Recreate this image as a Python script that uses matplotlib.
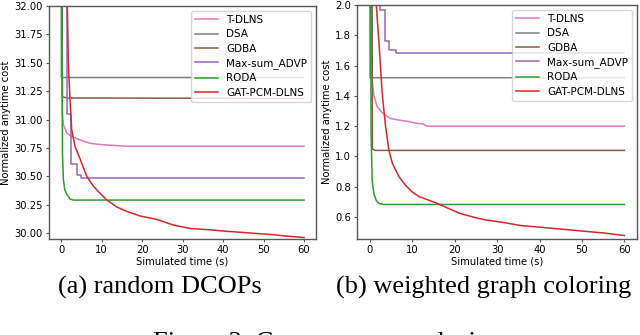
import matplotlib
matplotlib.use("Agg")
import matplotlib.pyplot as plt

labels = ["T-DLNS", "DSA", "GDBA", "Max-sum_ADVP", "RODA", "GAT-PCM-DLNS"]
colors = ["tab:pink", "tab:gray", "tab:brown", "tab:purple", "tab:green", "tab:red"]

# (a) random DCOPs
a_tdlns_t = [0.2, 0.25, 0.6, 1.4, 2.6, 4.7, 7.1, 9.6, 13.7, 15.8, 60]
a_tdlns_y = [33.0, 31.06, 30.95, 30.88, 30.85, 30.82, 30.79, 30.78, 30.77, 30.765, 30.765]
a_dsa_t = [0.0, 0.05, 60]
a_dsa_y = [33.0, 31.37, 31.37]
a_gdba_t = [0.1, 0.3, 1.5, 60]
a_gdba_y = [33.0, 31.20, 31.19, 31.185]
a_maxsum_t = [1.5, 1.5, 2.5, 2.5, 3.8, 3.8, 5.0, 5.0, 60]
a_maxsum_y = [33.0, 31.05, 31.05, 30.61, 30.61, 30.51, 30.51, 30.485, 30.485]
a_roda_t = [0.15, 0.3, 0.55, 0.9, 1.4, 2.2, 3.0, 60]
a_roda_y = [33.0, 30.73, 30.47, 30.38, 30.34, 30.30, 30.29, 30.29]
a_gat_t = [1.4, 1.8, 2.2, 2.6, 3.45, 4.7, 6.3, 8.0, 9.6, 11.3, 13.7, 16.2, 19.5,
           23.6, 27.7, 31.8, 35.9, 40.8, 46.6, 52.3, 56.5, 60]
a_gat_y = [32.2, 31.47, 31.17, 30.91, 30.76, 30.65, 30.50, 30.41, 30.35, 30.29, 30.23,
           30.19, 30.15, 30.12, 30.07, 30.04, 30.03, 30.015, 30.0, 29.985, 29.97, 29.96]

# (b) weighted graph coloring
b_tdlns_t = [0.3, 0.4, 0.95, 1.7, 2.9, 4.9, 6.9, 9.2, 10.8, 12.4, 13.6, 60]
b_tdlns_y = [2.5, 1.53, 1.40, 1.33, 1.29, 1.25, 1.24, 1.23, 1.22, 1.215, 1.20, 1.20]
b_dsa_t = [0.0, 0.05, 60]
b_dsa_y = [2.5, 1.52, 1.52]
b_gdba_t = [0.5, 0.6, 1.2, 60]
b_gdba_y = [2.5, 1.05, 1.04, 1.04]
b_maxsum_t = [2.4, 2.4, 3.6, 3.6, 4.5, 4.5, 6.2, 6.2, 60]
b_maxsum_y = [2.5, 1.97, 1.97, 1.76, 1.76, 1.70, 1.70, 1.683, 1.683]
b_roda_t = [0.1, 0.3, 0.55, 0.95, 1.5, 2.1, 3.3, 60]
b_roda_y = [2.5, 1.15, 0.84, 0.755, 0.71, 0.69, 0.683, 0.683]
b_gat_t = [1.3, 1.7, 2.1, 2.5, 2.9, 3.7, 4.5, 5.3, 6.9, 8.4, 10.0, 11.6, 14.0, 15.5,
           17.9, 21.1, 25.0, 27.4, 31.3, 35.3, 39.2, 43.2, 47.1, 51.0, 55.0, 60]
b_gat_y = [2.1, 1.93, 1.77, 1.60, 1.42, 1.20, 1.04, 0.955, 0.865, 0.81, 0.765, 0.735,
           0.71, 0.695, 0.665, 0.625, 0.595, 0.58, 0.565, 0.545, 0.535, 0.525, 0.515,
           0.505, 0.495, 0.478]

panels = [
    ([(a_tdlns_t, a_tdlns_y), (a_dsa_t, a_dsa_y), (a_gdba_t, a_gdba_y),
      (a_maxsum_t, a_maxsum_y), (a_roda_t, a_roda_y), (a_gat_t, a_gat_y)],
     (29.947, 32.0), [30.00, 30.25, 30.50, 30.75, 31.00, 31.25, 31.50, 31.75, 32.00], "%.2f",
     [0.0766, 0.2866, 0.4174, 0.6954], 0.25, "(a) random DCOPs"),
    ([(b_tdlns_t, b_tdlns_y), (b_dsa_t, b_dsa_y), (b_gdba_t, b_gdba_y),
      (b_maxsum_t, b_maxsum_y), (b_roda_t, b_roda_y), (b_gat_t, b_gat_y)],
     (0.455, 2.0), [0.6, 0.8, 1.0, 1.2, 1.4, 1.6, 1.8, 2.0], "%.1f",
     [0.558, 0.2866, 0.4375, 0.6984], 0.755, "(b) weighted graph coloring"),
]

fig = plt.figure(figsize=(6.4, 3.35), dpi=100)
spine_col = "#555555"

for series, ylim, yticks, fmt, rect, cap_x, caption in panels:
    ax = fig.add_axes(rect)
    for (t, y), lab, c in zip(series, labels, colors):
        ax.plot(t, y, color=c, lw=1.1, label=lab)
    ax.set_xlim(-3, 63)
    ax.set_ylim(*ylim)
    ax.set_xticks([0, 10, 20, 30, 40, 50, 60])
    ax.set_yticks(yticks)
    ax.set_yticklabels([fmt % v for v in yticks])
    ax.tick_params(labelsize=7.2, length=2.5, width=0.8, color=spine_col, pad=2)
    for s in ax.spines.values():
        s.set_color(spine_col)
        s.set_linewidth(1.0)
    ax.set_xlabel("Simulated time (s)", fontsize=7.2, labelpad=1)
    ax.set_ylabel("Normalized anytime cost", fontsize=7.2, labelpad=2)
    ax.legend(loc="upper right", fontsize=7.5, handlelength=2.2, labelspacing=0.42,
              borderaxespad=0.45)
    fig.text(cap_x, 1 - 294 / 335, caption, ha="center", va="baseline",
             family="Liberation Serif", fontsize=19)

# figure caption, cut off by the bottom edge as in the source
fig.text(0.5, 1 - 349 / 335, "Figure 3: Convergence analysis", ha="center",
         va="baseline", family="Liberation Serif", fontsize=19)

fig.savefig("out.png", dpi=100)
